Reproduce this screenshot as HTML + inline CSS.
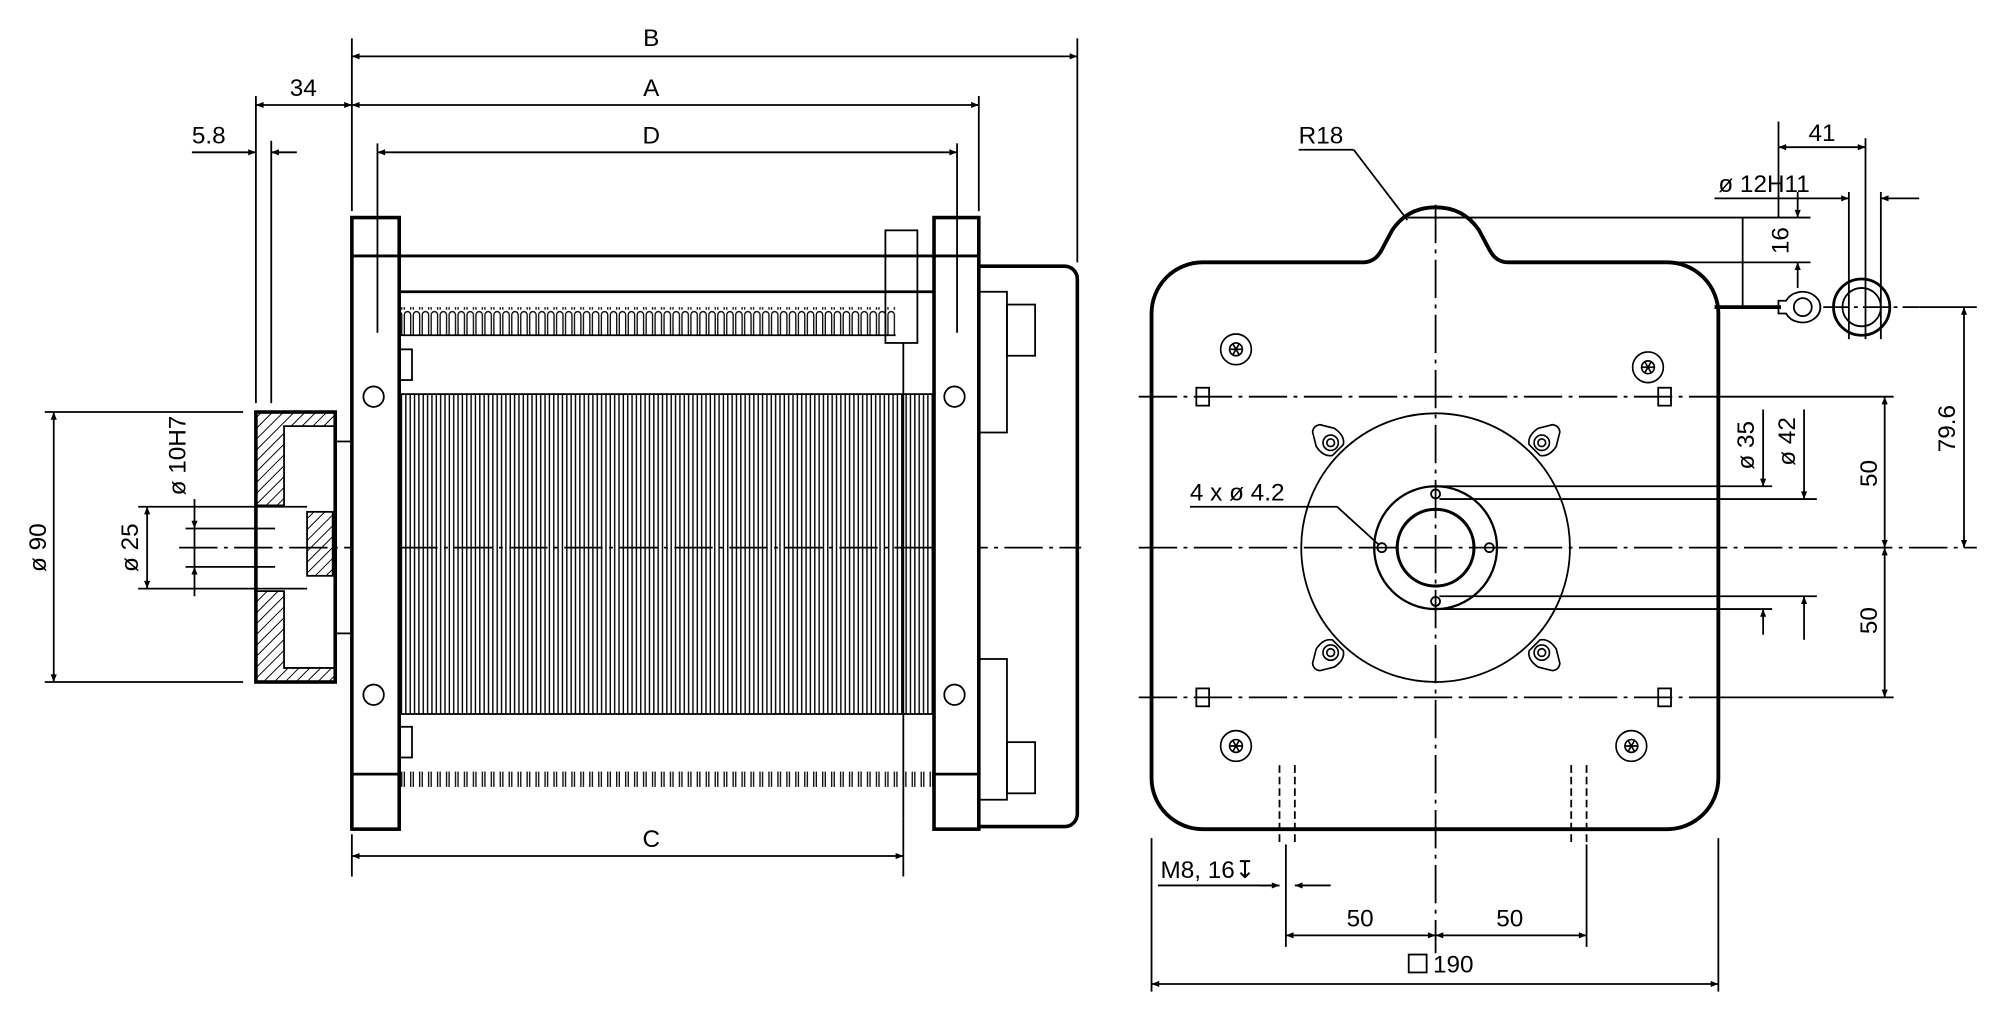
<!DOCTYPE html>
<html><head><meta charset="utf-8"><style>
html,body{margin:0;padding:0;background:#fff}
svg{display:block}
text{font-family:"Liberation Sans",sans-serif;font-size:19px;fill:#000}
</style></head><body>
<svg width="1996" height="1016" viewBox="0 0 1560 794" xmlns="http://www.w3.org/2000/svg">
<defs>
<pattern id="h" width="6" height="6" patternUnits="userSpaceOnUse" patternTransform="rotate(45)"><line x1="0" y1="0" x2="0" y2="6" stroke="#000" stroke-width="1.5"/></pattern>
<pattern id="v" width="3.4" height="10" patternUnits="userSpaceOnUse"><line x1="1" y1="0" x2="1" y2="10" stroke="#000" stroke-width="1.1"/></pattern>
<pattern id="c" width="7" height="22" patternUnits="userSpaceOnUse"><path d="M1,22 V4 a2.5,2.5 0 0 1 5,0 V22" fill="none" stroke="#000" stroke-width="1"/></pattern>
<marker id="a" viewBox="0 0 10 10" refX="10" refY="5" markerWidth="10" markerHeight="6" orient="auto-start-reverse" markerUnits="userSpaceOnUse"><path d="M0,1 L10,5 L0,9z" fill="#000"/></marker>
<g id="tab" fill="#fff" stroke="#000" stroke-width="1.3"><path d="M-10,-6 L-4,-16 Q0,-19 4,-16 L10,-6 Q12,4 6,8 L-6,8 Q-12,4 -10,-6Z"/><circle r="6"/><circle r="3"/></g>
<g id="scr" fill="none" stroke="#000" stroke-width="1.3"><circle r="12"/><circle r="5"/><path d="M-5,0 H5 M-2.5,-4.3 L2.5,4.3 M2.5,-4.3 L-2.5,4.3"/></g>
</defs>
<g fill="none" stroke="#000" stroke-width="1.4">
<!-- LEFT VIEW -->
<line x1="140" y1="428" x2="845" y2="428" stroke-dasharray="30,5,3,5"/>
<rect x="312" y="308" width="418" height="250" fill="url(#v)"/>
<rect x="312" y="240" width="388" height="22" fill="url(#c)" stroke="none"/>
<line x1="312" y1="262" x2="700" y2="262"/>
<rect x="312" y="603" width="418" height="12" fill="url(#c)" stroke="none"/>
<line x1="312" y1="200" x2="730" y2="200" stroke-width="2.2"/>
<line x1="312" y1="228" x2="730" y2="228" stroke-width="2.2"/>
<rect x="692" y="180" width="25" height="88"/>
<line x1="706" y1="268" x2="706" y2="640"/>
<rect x="275" y="170" width="37" height="478" stroke-width="2.8" fill="#fff"/>
<line x1="275" y1="200" x2="312" y2="200" stroke-width="2.2"/>
<line x1="275" y1="605" x2="312" y2="605" stroke-width="2.2"/>
<rect x="730" y="170" width="35" height="478" stroke-width="2.8" fill="#fff"/>
<line x1="730" y1="200" x2="765" y2="200" stroke-width="2.2"/>
<line x1="730" y1="605" x2="765" y2="605" stroke-width="2.2"/>
<circle cx="292" cy="310" r="8"/><circle cx="292" cy="543" r="8"/>
<circle cx="746" cy="310" r="8"/><circle cx="746" cy="543" r="8"/>
<rect x="312" y="273" width="10" height="24"/><rect x="312" y="568" width="10" height="24"/>
<path d="M765,208 H832 a10,10 0 0 1 10,10 V636 a10,10 0 0 1 -10,10 H765" stroke-width="2.8"/>
<rect x="765" y="228" width="22" height="110"/><rect x="787" y="238" width="22" height="40"/>
<rect x="765" y="515" width="22" height="110"/><rect x="787" y="580" width="22" height="40"/>
<rect x="200" y="322" width="62" height="211" stroke-width="2.8"/>
<path d="M200,322 H262 V333 H222 V395 H200Z M200,462 H222 V522 H262 V533 H200Z" fill="url(#h)"/>
<rect x="240" y="400" width="20" height="50" fill="url(#h)"/>
<rect x="262" y="345" width="13" height="150"/>
<line x1="275" y1="30" x2="275" y2="165"/><line x1="842" y1="30" x2="842" y2="205"/>
<line x1="765" y1="75" x2="765" y2="165"/><line x1="200" y1="75" x2="200" y2="315"/>
<line x1="212" y1="110" x2="212" y2="315"/>
<line x1="295" y1="112" x2="295" y2="260"/><line x1="748" y1="112" x2="748" y2="260"/>
<line x1="275" y1="44" x2="842" y2="44" marker-start="url(#a)" marker-end="url(#a)"/>
<line x1="275" y1="82" x2="765" y2="82" marker-start="url(#a)" marker-end="url(#a)"/>
<line x1="200" y1="82" x2="275" y2="82" marker-start="url(#a)" marker-end="url(#a)"/>
<line x1="295" y1="119" x2="748" y2="119" marker-start="url(#a)" marker-end="url(#a)"/>
<line x1="150" y1="119" x2="200" y2="119" marker-end="url(#a)"/>
<line x1="232" y1="119" x2="212" y2="119" marker-end="url(#a)"/>
<line x1="275" y1="652" x2="275" y2="685"/><line x1="706" y1="640" x2="706" y2="685"/>
<line x1="275" y1="669" x2="706" y2="669" marker-start="url(#a)" marker-end="url(#a)"/>
<line x1="35" y1="322" x2="190" y2="322"/><line x1="35" y1="533" x2="190" y2="533"/>
<line x1="42" y1="322" x2="42" y2="533" marker-start="url(#a)" marker-end="url(#a)"/>
<line x1="108" y1="396" x2="240" y2="396"/><line x1="108" y1="460" x2="240" y2="460"/>
<line x1="115" y1="396" x2="115" y2="460" marker-start="url(#a)" marker-end="url(#a)"/>
<line x1="145" y1="413" x2="215" y2="413"/><line x1="145" y1="443" x2="215" y2="443"/>
<line x1="152" y1="390" x2="152" y2="413" marker-end="url(#a)"/>
<line x1="152" y1="466" x2="152" y2="443" marker-end="url(#a)"/>
<line x1="152" y1="413" x2="152" y2="443"/>

<!-- RIGHT VIEW -->
<path d="M940,205 H1065 Q1075,205 1080,195 L1088,180 Q1100,162 1122,162 Q1144,162 1156,180 L1164,195 Q1169,205 1179,205 H1303 a40,40 0 0 1 40,40 V608 a40,40 0 0 1 -40,40 H940 a40,40 0 0 1 -40,-40 V245 a40,40 0 0 1 40,-40Z" stroke-width="3"/>
<line x1="1122" y1="160" x2="1122" y2="745" stroke-dasharray="30,5,3,5"/>
<line x1="890" y1="428" x2="1545" y2="428" stroke-dasharray="30,5,3,5"/>
<line x1="890" y1="310" x2="1345" y2="310" stroke-dasharray="30,5,3,5"/>
<line x1="890" y1="545" x2="1345" y2="545" stroke-dasharray="30,5,3,5"/>
<circle cx="1122" cy="428" r="105"/>
<circle cx="1122" cy="428" r="48" stroke-width="1.8"/>
<circle cx="1122" cy="428" r="30" stroke-width="2.4"/>
<circle cx="1122" cy="386" r="3.5"/><circle cx="1122" cy="470" r="3.5"/>
<circle cx="1080" cy="428" r="3.5"/><circle cx="1164" cy="428" r="3.5"/>
<use href="#tab" transform="translate(1040,346) rotate(-45)"/>
<use href="#tab" transform="translate(1205,346) rotate(45)"/>
<use href="#tab" transform="translate(1040,510) rotate(-135)"/>
<use href="#tab" transform="translate(1205,510) rotate(135)"/>
<use href="#scr" x="966" y="273"/><use href="#scr" x="1288" y="287"/>
<use href="#scr" x="966" y="583"/><use href="#scr" x="1275" y="583"/>
<rect x="935" y="303" width="10" height="14"/><rect x="1296" y="303" width="10" height="14"/>
<rect x="935" y="538" width="10" height="14"/><rect x="1296" y="538" width="10" height="14"/>
<line x1="1000" y1="598" x2="1000" y2="660" stroke-dasharray="6,3"/><line x1="1012" y1="598" x2="1012" y2="660" stroke-dasharray="6,3"/>
<line x1="1228" y1="598" x2="1228" y2="660" stroke-dasharray="6,3"/><line x1="1240" y1="598" x2="1240" y2="660" stroke-dasharray="6,3"/>
<line x1="1340" y1="240" x2="1392" y2="240" stroke-width="3"/>
<path d="M1390,235 H1396 a14,12 0 1 1 0,10 H1390Z"/>
<circle cx="1409" cy="240" r="7"/>
<circle cx="1455" cy="240" r="22" stroke-width="2.2"/><circle cx="1455" cy="240" r="15"/>
<line x1="1425" y1="240" x2="1500" y2="240" stroke-dasharray="20,4,3,4"/>
<line x1="1100" y1="170" x2="1415" y2="170"/><line x1="1310" y1="205" x2="1415" y2="205"/>
<line x1="1405" y1="150" x2="1405" y2="170" marker-end="url(#a)"/>
<line x1="1405" y1="225" x2="1405" y2="205" marker-end="url(#a)"/>
<line x1="1362" y1="170" x2="1362" y2="240"/>
<line x1="1390" y1="95" x2="1390" y2="170"/><line x1="1458" y1="108" x2="1458" y2="265"/>
<line x1="1390" y1="115" x2="1458" y2="115" marker-start="url(#a)" marker-end="url(#a)"/>
<line x1="1445" y1="150" x2="1445" y2="265"/><line x1="1470" y1="150" x2="1470" y2="265"/>
<line x1="1340" y1="155" x2="1445" y2="155" marker-end="url(#a)"/>
<line x1="1500" y1="155" x2="1470" y2="155" marker-end="url(#a)"/>
<line x1="1500" y1="240" x2="1545" y2="240"/>
<line x1="1535" y1="240" x2="1535" y2="428" marker-start="url(#a)" marker-end="url(#a)"/>
<line x1="1345" y1="310" x2="1480" y2="310"/><line x1="1345" y1="545" x2="1480" y2="545"/>
<line x1="1473" y1="310" x2="1473" y2="428" marker-start="url(#a)" marker-end="url(#a)"/>
<line x1="1473" y1="428" x2="1473" y2="545" marker-start="url(#a)" marker-end="url(#a)"/>
<line x1="1125" y1="380" x2="1385" y2="380"/><line x1="1125" y1="476" x2="1385" y2="476"/>
<line x1="1125" y1="390" x2="1420" y2="390"/><line x1="1125" y1="466" x2="1420" y2="466"/>
<line x1="1378" y1="320" x2="1378" y2="380" marker-end="url(#a)"/>
<line x1="1378" y1="496" x2="1378" y2="476" marker-end="url(#a)"/>
<line x1="1410" y1="320" x2="1410" y2="390" marker-end="url(#a)"/>
<line x1="1410" y1="500" x2="1410" y2="466" marker-end="url(#a)"/>
<line x1="930" y1="396" x2="1045" y2="396"/><line x1="1045" y1="396" x2="1078" y2="426"/>
<line x1="1015" y1="117" x2="1058" y2="117"/><line x1="1058" y1="117" x2="1100" y2="172"/>
<line x1="900" y1="655" x2="900" y2="775"/><line x1="1343" y1="655" x2="1343" y2="775"/>
<line x1="900" y1="769" x2="1343" y2="769" marker-start="url(#a)" marker-end="url(#a)"/>
<line x1="1005" y1="660" x2="1005" y2="740"/><line x1="1240" y1="660" x2="1240" y2="740"/>
<line x1="1005" y1="731" x2="1122" y2="731" marker-start="url(#a)" marker-end="url(#a)"/>
<line x1="1122" y1="731" x2="1240" y2="731" marker-start="url(#a)" marker-end="url(#a)"/>
<line x1="905" y1="692" x2="1000" y2="692"/>
<line x1="985" y1="692" x2="1000" y2="692" marker-end="url(#a)"/>
<line x1="1040" y1="692" x2="1012" y2="692" marker-end="url(#a)"/>
<rect x="1101" y="746" width="14" height="14"/>
</g>
<g>
<text x="509" y="36" text-anchor="middle">B</text>
<text x="509" y="75" text-anchor="middle">A</text>
<text x="509" y="112" text-anchor="middle">D</text>
<text x="237" y="75" text-anchor="middle">34</text>
<text x="150" y="112">5.8</text>
<text x="509" y="662" text-anchor="middle">C</text>
<text transform="translate(36,428) rotate(-90)" text-anchor="middle">ø 90</text>
<text transform="translate(108,428) rotate(-90)" text-anchor="middle">ø 25</text>
<text transform="translate(145,356) rotate(-90)" text-anchor="middle">ø 10H7</text>
<text x="1015" y="112">R18</text>
<text x="930" y="391">4 x ø 4.2</text>
<text x="1424" y="110" text-anchor="middle">41</text>
<text x="1343" y="150">ø 12H11</text>
<text transform="translate(1398,188) rotate(-90)" text-anchor="middle">16</text>
<text transform="translate(1528,335) rotate(-90)" text-anchor="middle">79.6</text>
<text transform="translate(1467,370) rotate(-90)" text-anchor="middle">50</text>
<text transform="translate(1467,485) rotate(-90)" text-anchor="middle">50</text>
<text transform="translate(1371,348) rotate(-90)" text-anchor="middle">ø 35</text>
<text transform="translate(1403,345) rotate(-90)" text-anchor="middle">ø 42</text>
<text x="1063" y="724" text-anchor="middle">50</text>
<text x="1180" y="724" text-anchor="middle">50</text>
<text x="1120" y="760">190</text>
<text x="907" y="686">M8, 16↧</text>
</g>
</svg>
</body></html>
